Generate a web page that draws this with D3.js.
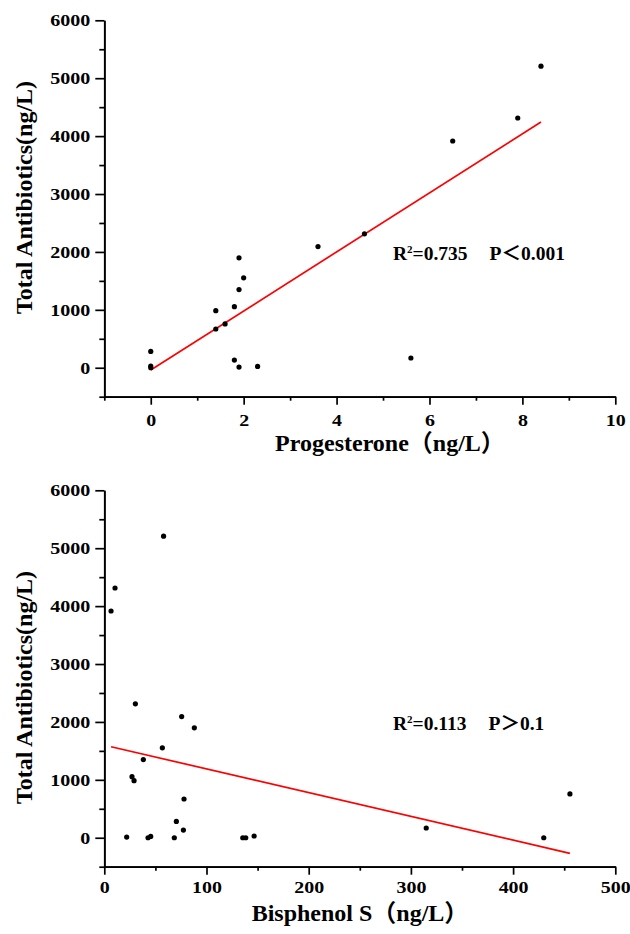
<!DOCTYPE html>
<html>
<head>
<meta charset="utf-8">
<script src="https://cdn.jsdelivr.net/npm/d3@7"></script>
<style>
body { margin: 0; background: #fff; }
svg text { font-family: "Liberation Serif", "Times New Roman", "Noto Sans CJK SC", serif !important; font-weight: bold; fill: #000; }
</style>
</head>
<body>
<svg id="chart" width="630" height="934"></svg>
<script>
// top panel - progesterone vs total antibiotics
var progX = [0, 0, 0, 1.4, 1.4, 1.6, 1.8, 1.9, 2.0, 1.9, 1.8, 1.9, 2.3, 3.6, 4.6, 6.5, 7.9, 8.4, 5.6];
var progY = [282, 30, 0, 986, 669, 756, 1055, 1898, 1552, 1350, 133, 12, 23, 2093, 2313, 3916, 4313, 5208, 168];
var progFit = [510, -40]; // slope, intercept
var progStats = ["0.735", "P＜0.001"];

// bottom panel - bisphenol S vs total antibiotics
var bpsX = [58, 10.5, 6.6, 30.4, 75.7, 88.1, 56.8, 38.2, 27.1, 29.1, 78, 70.5, 77.4, 21.9, 42.8, 45.4, 68.5, 135.5, 138.4, 146.6, 455.6, 315, 430];
var bpsY = [5208, 4313, 3916, 2313, 2093, 1898, 1552, 1350, 1055, 986, 669, 282, 133, 12, 0, 23, 0, 0, 0, 30, 756, 168, 0];
var bpsFit = [-4.10, 1599];
var bpsStats = ["0.113", "P＞0.1"];

var yTicks = [0, 1000, 2000, 3000, 4000, 5000, 6000];
var yMinor = [-500, 500, 1500, 2500, 3500, 4500, 5500];
var progTicks = [0, 2, 4, 6, 8, 10];
var progMinor = [-1, 1, 3, 5, 7, 9];
var bpsTicks = [0, 100, 200, 300, 400, 500];
var bpsMinor = [50, 150, 250, 350, 450];

var FONT = '"Liberation Serif", "Times New Roman", serif';
var svg = d3.select('#chart');

function drawPanel(p) {
    var x = d3.scaleLinear().domain(p.xDomain).range([104.3, 615.3]);
    var y = d3.scaleLinear().domain([-500, 6000]).range([p.bottom, p.top]);
    var g = svg.append('g');

    // minor ticks first, no labels
    g.append('g')
        .attr('transform', 'translate(0,' + p.bottom + ')')
        .call(d3.axisBottom(x).tickValues(p.xMinor).tickSize(4).tickSizeOuter(0).tickFormat(''));
    g.append('g')
        .attr('transform', 'translate(104.3,0)')
        .call(d3.axisLeft(y).tickValues(yMinor).tickSize(5).tickSizeOuter(0).tickFormat(''));

    var xa = g.append('g')
        .attr('transform', 'translate(0,' + p.bottom + ')')
        .call(d3.axisBottom(x).tickValues(p.xTicks).tickSize(8).tickPadding(p.xPad).tickSizeOuter(0).tickFormat(d3.format('d')));
    xa.attr('font-family', FONT).attr('font-weight', 'bold');
    xa.selectAll('text')
        .attr('font-size', 17.5)
        .attr('transform', 'scale(1.14,1)');

    var ya = g.append('g')
        .attr('transform', 'translate(104.3,0)')
        .call(d3.axisLeft(y).tickValues(yTicks).tickSize(9).tickPadding(5).tickSizeOuter(0).tickFormat(d3.format('d')));
    ya.attr('font-family', FONT).attr('font-weight', 'bold');
    ya.selectAll('text')
        .attr('font-size', 17.3)
        .attr('x', -14 / 1.16)
        .attr('transform', 'scale(1.16,1)');

    g.selectAll('.domain, .tick line')
        .attr('stroke', '#000')
        .attr('stroke-width', 1.7);

    // regression line over the data range
    var ext = d3.extent(p.xs);
    g.append('line')
        .attr('x1', x(ext[0]))
        .attr('y1', y(p.fit[0] * ext[0] + p.fit[1]))
        .attr('x2', x(ext[1]))
        .attr('y2', y(p.fit[0] * ext[1] + p.fit[1]))
        .attr('stroke', '#f00')
        .attr('stroke-width', 1.7);

    g.append('g')
        .selectAll('circle')
        .data(p.xs)
        .enter().append('circle')
        .attr('cx', d => x(d))
        .attr('cy', (d, i) => y(p.ys[i]))
        .attr('r', 2.6)
        .attr('fill', '#000');

    var note = g.append('text')
        .attr('x', 393)
        .attr('y', p.noteY)
        .attr('font-size', 19.5);
    note.append('tspan').text('R');
    note.append('tspan').text('2').attr('font-size', 11).attr('dy', -7);
    note.append('tspan').text('=' + p.stats[0]).attr('dy', 7);
    note.append('tspan').text(p.stats[1]).attr('dx', 22);

    g.append('text')
        .attr('x', p.titleX)
        .attr('y', p.bottom + 54)
        .attr('text-anchor', 'middle')
        .attr('font-size', 24)
        .text(p.title);

    g.append('text')
        .attr('transform', 'translate(32,' + p.yTitleY + ') rotate(-90)')
        .attr('text-anchor', 'middle')
        .attr('font-size', 24)
        .text('Total Antibiotics(ng/L)');
}

drawPanel({
    xs: progX, ys: progY, fit: progFit, stats: progStats,
    xDomain: [-1, 10], xTicks: progTicks, xMinor: progMinor, xPad: 9,
    top: 20.3, bottom: 396.7, noteY: 260, titleX: 390, yTitleY: 197.5,
    title: 'Progesterone（ng/L）'
});

drawPanel({
    xs: bpsX, ys: bpsY, fit: bpsFit, stats: bpsStats,
    xDomain: [0, 500], xTicks: bpsTicks, xMinor: bpsMinor, xPad: 6,
    top: 490.3, bottom: 866.7, noteY: 730, titleX: 360, yTitleY: 687.5,
    title: 'Bisphenol S（ng/L）'
});
</script>
</body>
</html>
